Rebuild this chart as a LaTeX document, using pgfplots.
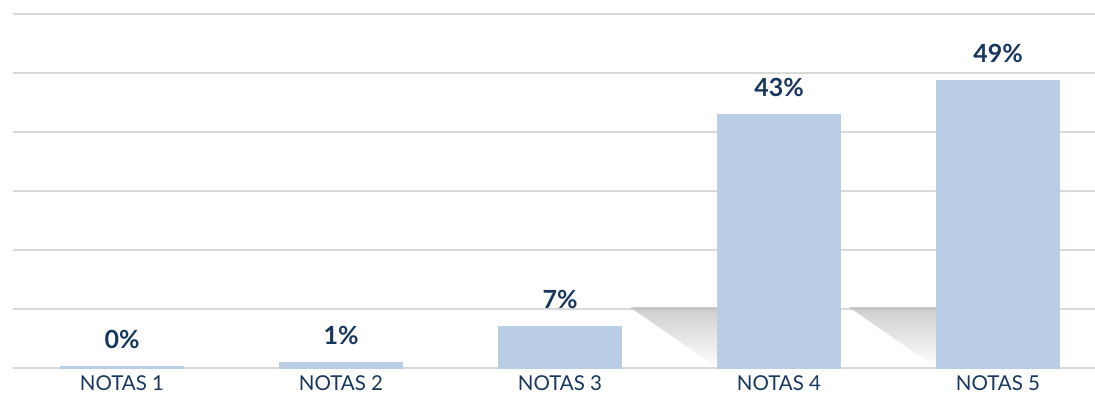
\documentclass[border=0pt]{standalone}
\usepackage{fontspec}
\setmainfont{Lato}
\usepackage{pgfplots}
\pgfplotsset{compat=1.18}
\definecolor{barblue}{HTML}{B9CDE5}
\definecolor{navy}{HTML}{17375E}
\definecolor{gridgray}{HTML}{D9D9D9}
\begin{document}
\begin{tikzpicture}
\begin{axis}[
  scale only axis, width=1082.5pt, height=354pt,
  xmin=-0.5, xmax=4.443, ymin=0, ymax=60,
  axis line style={draw=none},
  ytick={0,10,...,60}, yticklabels={},
  ymajorgrids, grid style={gridgray, line width=1.5pt},
  major tick length=0pt,
  xtick=data,
  xticklabels={NOTAS 1,NOTAS 2,NOTAS 3,NOTAS 4,NOTAS 5},
  xticklabel style={font=\fontsize{20.5}{20.5}\selectfont, text=navy, anchor=center, yshift=-15pt},
  ybar, bar width=0.565,
  point meta=explicit,
  /pgf/number format/assume math mode=true,
  nodes near coords={\pgfmathprintnumber[fixed,precision=0,assume math mode=true]{\pgfplotspointmeta}\%},
  nodes near coords style={font=\bfseries\fontsize{25}{25}\selectfont, text=navy, anchor=south, inner sep=0pt, yshift=17pt},
  clip=false,
]
\shade[top color=gray!55, bottom color=white, fill opacity=0.7, draw=none] (axis cs:2.32,10.3) -- (axis cs:2.72,10.3) -- (axis cs:2.72,0) -- cycle;
\shade[top color=gray!55, bottom color=white, fill opacity=0.7, draw=none] (axis cs:3.32,10.3) -- (axis cs:3.72,10.3) -- (axis cs:3.72,0) -- cycle;
\addplot[fill=barblue, draw=barblue, line width=1pt] coordinates {(0,0.3) [0] (1,0.9) [1] (2,7) [7] (3,43) [43] (4,48.8) [49]};
\end{axis}
\pgfresetboundingbox
\path ([xshift=-12.5pt,yshift=-34pt]current axis.south west) rectangle ([yshift=14pt]current axis.north east);
\end{tikzpicture}
\end{document}
